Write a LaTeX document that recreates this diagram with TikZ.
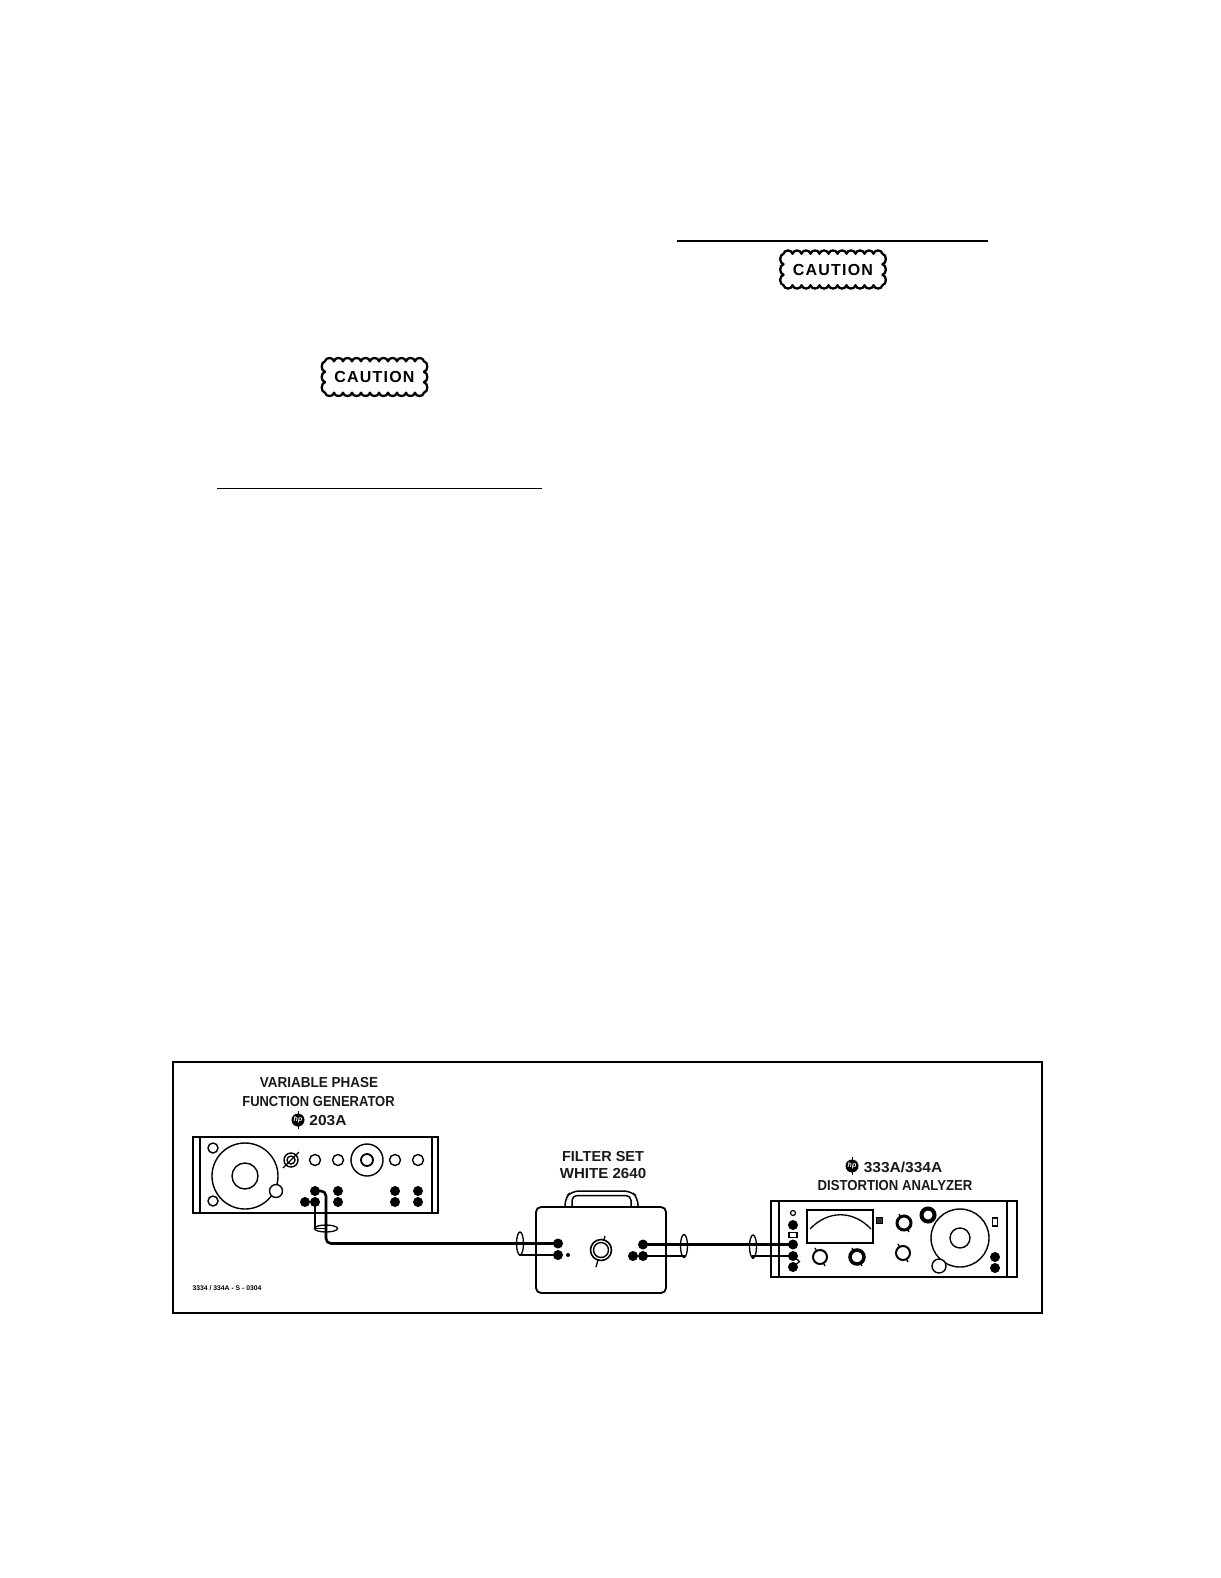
\documentclass[tikz,border=0pt]{standalone}
\usepackage{fontspec}
\setmainfont{Liberation Sans}
\usetikzlibrary{shapes.geometric}
\newcommand{\sx}[2]{\scalebox{#1}[1]{#2}}
\newcommand{\scallopbox}[1]{%
  \draw[scallop] ([xshift=-49.5pt,yshift=15.75pt]#1)
    foreach \i in {1,...,11}{ .. controls +(1pt,4.4pt) and +(-1pt,4.4pt) .. ++(9pt,0pt)}
    foreach \i in {1,...,3}{ .. controls +(4.4pt,-1pt) and +(4.4pt,1pt) .. ++(0pt,-10.5pt)}
    foreach \i in {1,...,11}{ .. controls +(-1pt,-4.4pt) and +(1pt,-4.4pt) .. ++(-9pt,0pt)}
    foreach \i in {1,...,3}{ .. controls +(-4.4pt,1pt) and +(-4.4pt,-1pt) .. ++(0pt,10.5pt)}
    -- cycle;}
\tikzset{
  x=1pt,y=-1pt,
  lbl/.style={font=\bfseries\fontsize{14.5}{15}\selectfont,inner sep=0pt,align=center,text=black!90},
  panel/.style={draw,line width=2.2pt,inner sep=0pt},
  ring/.style={circle,draw,line width=1.4pt,inner sep=0pt},
  hring/.style={circle,draw,fill=white,line width=3pt,inner sep=0pt},
  wring/.style={circle,draw,fill=white,line width=1.4pt,inner sep=0pt},
  jack/.style={circle,fill=black,inner sep=0pt,minimum size=10pt},
  loopv/.style={ellipse,draw,line width=1.3pt,inner sep=0pt,minimum width=7pt,minimum height=23pt},
  looph/.style={ellipse,draw,line width=1.3pt,inner sep=0pt,minimum width=23pt,minimum height=7pt},
  thin wire/.style={line width=1.2pt},
  thick wire/.style={line width=2.6pt,rounded corners=5pt},
  thin part/.style={line width=1.3pt},
  scallop/.style={line width=2.3pt,line join=round},
  cautiontext/.style={font=\bfseries\fontsize{16}{16}\selectfont,inner sep=0pt},
  rulel/.style={line width=1.6pt},
  hp/.style={circle,fill=black,text=white,inner sep=0pt,minimum size=13pt,font=\bfseries\itshape\fontsize{7}{7}\selectfont},
}
\begin{document}
\begin{tikzpicture}
\useasboundingbox[fill=white] (0,0) rectangle (1220,1578);
% page rules and cautions
\coordinate (r1a) at (677,241); \coordinate (r1b) at (988,241);
\draw[rulel] (r1a) -- (r1b);
\coordinate (caution1) at (833,269.5);
\scallopbox{caution1}
\node[cautiontext] (ctext1) at (caution1) {C\kern1.2pt A\kern1.2pt U\kern1.2pt T\kern1.2pt I\kern1.2pt O\kern1.2pt N};
\coordinate (caution2) at (374.5,377);
\scallopbox{caution2}
\node[cautiontext] (ctext2) at (caution2) {C\kern1.2pt A\kern1.2pt U\kern1.2pt T\kern1.2pt I\kern1.2pt O\kern1.2pt N};
\coordinate (r2a) at (217,488.5); \coordinate (r2b) at (542,488.5);
\draw[line width=1.3pt] (r2a) -- (r2b);
% outer frame
\node[draw,line width=2.4pt,minimum width=869pt,minimum height=251pt,inner sep=0pt] (frame) at (607.5,1187.5) {};
% generator labels
\node[lbl] (t1) at (319,1082) {\sx{.93}{VARIABLE PHASE}};
\node[lbl] (t2) at (318.5,1101.5) {\sx{.895}{FUNCTION GENERATOR}};
\draw[line width=1pt] (298,1111) -- (298,1129);
\node[hp] (hp1) at (298,1120) {hp};
\node[lbl] (t3) at (328,1120.5) {\sx{1.07}{203A}};
% generator panel
\node[panel,minimum width=245pt,minimum height=76pt] (gen) at (315.5,1175) {};
\draw[thin part] (200,1137) -- (200,1213) (432,1137) -- (432,1213);
\node[ring,minimum size=66pt] (g1) at (245,1176) {};
\node[ring,minimum size=26pt] (g2) at (245,1176) {};
\node[wring,minimum size=13pt] (g3) at (276,1191) {};
\node[ring,minimum size=10pt] (g4) at (213,1148) {};
\node[ring,minimum size=10pt] (g5) at (213,1201) {};
\node[ring,minimum size=14pt] (g6) at (291,1160) {};
\node[ring,minimum size=8pt] (g6b) at (291,1160) {};
\draw[thin part] (283,1168) -- (299,1152);
\node[ring,minimum size=11pt] (g7) at (315,1160) {};
\node[ring,minimum size=11pt] (g8) at (338,1160) {};
\node[ring,minimum size=32pt] (g9) at (367,1160) {};
\node[ring,line width=1.8pt,minimum size=12pt] (g10) at (367,1160) {};
\node[ring,minimum size=11pt] (g11) at (395,1160) {};
\node[ring,minimum size=11pt] (g12) at (418,1160) {};
\node[jack] (j1) at (315,1191) {};
\node[jack] (j2) at (315,1202) {};
\node[jack] (j3) at (305,1202) {};
\node[jack] (j4) at (338,1191) {};
\node[jack] (j5) at (338,1202) {};
\node[jack] (j6) at (395,1191) {};
\node[jack] (j7) at (395,1202) {};
\node[jack] (j8) at (418,1191) {};
\node[jack] (j9) at (418,1202) {};
% filter set
\node[lbl] (t4) at (603,1156) {FILTER SET};
\node[lbl] (t5) at (603,1173) {\sx{1.04}{WHITE 2640}};
\node[draw,line width=1.8pt,rounded corners=5pt,minimum width=130pt,minimum height=86pt,inner sep=0pt] (filter) at (601,1250) {};
\draw[line width=1.5pt,rounded corners=7pt] (565,1207) -- (565,1198) -- (572,1191) -- (631,1191) -- (638,1198) -- (638,1207);
\draw[line width=1.5pt,rounded corners=5pt] (572,1207) -- (572,1195.5) -- (631,1195.5) -- (631,1207);
\node[jack] (f1) at (558,1243.5) {};
\node[jack] (f2) at (558,1255) {};
\node[circle,fill=black,inner sep=0pt,minimum size=4pt] (f3) at (568,1255) {};
\draw[thin part] (596,1267) -- (605,1236);
\node[wring,line width=1.6pt,minimum size=21pt] (f4) at (601,1250) {};
\node[ring,minimum size=15pt] (f5) at (601,1250) {};
\node[jack] (f6) at (643,1244.5) {};
\node[jack] (f7) at (643,1256) {};
\node[jack] (f8) at (633,1256) {};
% analyzer labels
\draw[line width=1pt] (852,1157) -- (852,1175);
\node[hp] (hp2) at (852,1166) {hp};
\node[lbl] (t6) at (903,1167) {\sx{1.07}{333A/334A}};
\node[lbl] (t7) at (895,1185) {\sx{.905}{DISTORTION ANALYZER}};
% analyzer panel
\node[panel,line width=2.6pt,minimum width=246pt,minimum height=76pt] (ana) at (894,1239) {};
\draw[thin part] (779,1201) -- (779,1277) (1007,1201) -- (1007,1277);
\node[draw,line width=1.3pt,minimum width=66pt,minimum height=33pt,inner sep=0pt] (meter) at (840,1226.5) {};
\draw[line width=1.3pt] (810,1229) .. controls (828,1210) and (853,1210) .. (871,1229);
\node[draw,fill=black!80,inner sep=0pt,minimum width=6pt,minimum height=6pt] (a0) at (879,1220) {};
\draw[thin part] (899,1214) -- (909,1232);
\node[hring,minimum size=14pt] (a1) at (904,1223) {};
\node[hring,line width=4pt,minimum size=13pt] (a2) at (928,1215) {};
\draw[thin part] (815,1248) -- (825,1266);
\node[wring,line width=2pt,minimum size=14pt] (a3) at (820,1257) {};
\draw[thin part] (852,1248) -- (862,1266);
\node[hring,line width=3.5pt,minimum size=14pt] (a4) at (857,1257) {};
\draw[thin part] (898,1244) -- (908,1262);
\node[wring,line width=2pt,minimum size=14pt] (a5) at (903,1253) {};
\node[ring,minimum size=58pt] (a6) at (960,1238) {};
\node[ring,minimum size=20pt] (a7) at (960,1238) {};
\node[wring,minimum size=14pt] (a8) at (939,1266) {};
\node[draw,line width=1.8pt,inner sep=0pt,minimum width=5pt,minimum height=8pt] (a9) at (995,1222) {};
\node[jack] (a10) at (995,1257) {};
\node[jack] (a11) at (995,1268) {};
\node[circle,draw,line width=1.2pt,inner sep=0pt,minimum size=5pt] (a12) at (793,1213) {};
\node[jack] (a13) at (793,1225) {};
\node[draw,line width=1.6pt,inner sep=0pt,minimum width=8pt,minimum height=5pt] (a14) at (793,1235) {};
\node[jack] (a15) at (793,1244.5) {};
\node[jack] (a16) at (793,1256) {};
\node[jack] (a17) at (793,1267) {};
\coordinate (a18) at (799.5,1261.5);
\draw[thin wire] (a16.center) -- (a18) -- (a17.center);
% shields
\node[looph] (s1) at (326,1228.5) {};
\node[loopv] (s2) at (520,1243.5) {};
\node[loopv] (s3) at (684,1246) {};
\node[loopv] (s4) at (753,1246.5) {};
% wiring
\draw[thick wire] (j1.center) -| (s1.center |- f1.center) -- (f1.center);
\draw[thin wire] (j2.center) |- (s1.center);
\draw[thin wire] (s2.south) |- (f2.center);
\draw[thick wire] (f6.center) -- (a15.center);
\draw[thin wire] (f7.center) -| (s3.south);
\draw[thin wire] (s4.south) |- (a16.center);
% part number
\node[font=\bfseries\fontsize{6.8}{7}\selectfont,inner sep=0pt] (pn) at (227,1288) {3334 / 334A - S - 0304};
\end{tikzpicture}
\end{document}
